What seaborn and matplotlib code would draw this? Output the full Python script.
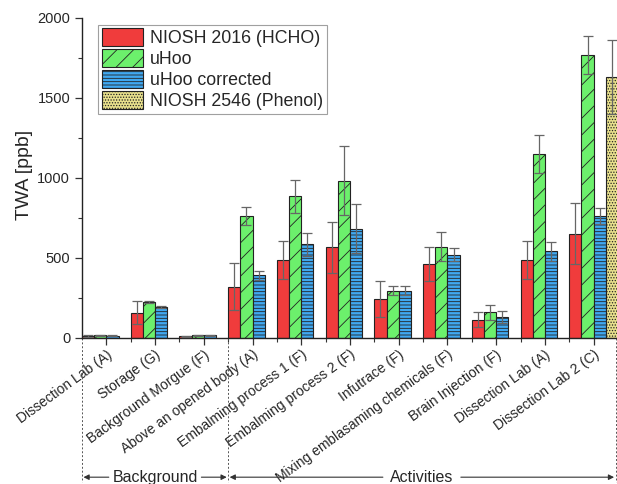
import pandas as pd
import matplotlib.pyplot as plt
import matplotlib.transforms as mtransforms
from matplotlib.ticker import MultipleLocator
import seaborn as sns

# Sampling locations
locations = [
    "Dissection Lab (A)", "Storage (G)", "Background Morgue (F)",
    "Above an opened body (A)", "Embalming process 1 (F)", "Embalming process 2 (F)",
    "Infutrace (F)", "Mixing emblasaming chemicals (F)", "Brain Injection (F)",
    "Dissection Lab (A)", "Dissection Lab 2 (C)",
]
series = ["NIOSH 2016 (HCHO)", "uHoo", "uHoo corrected", "NIOSH 2546 (Phenol)"]

# TWA values [ppb] and their errors
niosh_hcho = [12, 158, 10, 321, 487, 567, 242, 465, 115, 487, 652]
niosh_hcho_err = [4, 73, 3, 146, 117, 160, 112, 106, 45, 117, 190]
uhoo = [18, 223, 18, 762, 885, 983, 296, 569, 160, 1148, 1767]
uhoo_err = [3, 5, 3, 58, 105, 217, 27, 91, 48, 119, 120]
uhoo_corr = [15, 192, 17, 392, 585, 683, 296, 519, 133, 542, 762]
uhoo_corr_err = [5, 7, 3, 28, 70, 154, 27, 41, 38, 58, 48]
niosh_phenol = [None] * 10 + [1631]
niosh_phenol_err = [0] * 10 + [231]

colors = ["#f03c3c", "#6cf06c", "#40a8f0", "#e8e08c"]
hatches = ["", "//", "-----", "......"]

# long table for seaborn, using positions as categories (labels repeat)
rows = []
for vals, errs, name in zip(
    [niosh_hcho, uhoo, uhoo_corr, niosh_phenol],
    [niosh_hcho_err, uhoo_err, uhoo_corr_err, niosh_phenol_err],
    series,
):
    for i, (v, e) in enumerate(zip(vals, errs)):
        rows.append({"pos": i, "value": v, "err": e, "series": name})
df = pd.DataFrame(rows)
df["value"] = df["value"].astype(float)

sns.set_style("ticks")
plt.rcParams["font.family"] = ["Liberation Sans", "DejaVu Sans"]
plt.rcParams["hatch.linewidth"] = 0.6
plt.rcParams["hatch.color"] = "#222222"

fig = plt.figure(figsize=(6.17, 4.84), dpi=100)
ax = fig.add_axes([0.1329, 0.3017, 0.8687, 0.6612])

sns.barplot(
    data=df, x="pos", y="value", hue="series", hue_order=series,
    palette=colors, saturation=1, width=1.0, errorbar=None, legend=False,
    edgecolor="#222222", linewidth=0.8, ax=ax,
)

err_lookup = {(r.series, r.pos): r.err for r in df.itertuples()}
for cont, name, hatch in zip(ax.containers, series, hatches):
    xs, ys, es = [], [], []
    for bar in cont:
        if not bar.get_height() > 0:
            continue
        bar.set_hatch(hatch)
        xc = bar.get_x() + bar.get_width() / 2
        xs.append(xc)
        ys.append(bar.get_height())
        es.append(err_lookup[(name, int(round(xc)))])
    ax.errorbar(xs, ys, yerr=es, fmt="none", ecolor="#666666",
                elinewidth=0.9, capsize=3.5, capthick=0.9, zorder=5)

leg = ax.legend(ax.containers, series, loc="upper left",
                bbox_to_anchor=(0.024, 0.99), fontsize=12.8, frameon=True,
                fancybox=False, edgecolor="#888888", handlelength=2.3,
                handleheight=1.15, labelspacing=0.12, borderpad=0.2,
                handletextpad=0.4, borderaxespad=0.2)
leg.get_frame().set_linewidth(0.8)

ax.set_xlim(-0.5, 10.5)
ax.set_ylim(0, 2000)
ax.yaxis.set_major_locator(MultipleLocator(500))
ax.yaxis.set_minor_locator(MultipleLocator(250))
ax.set_xticks(range(len(locations)))
ax.set_xticks([i + 0.5 for i in range(len(locations) - 1)], minor=True)
ax.set_xticklabels(locations, rotation=36, ha="right", rotation_mode="anchor",
                   fontsize=10)
ax.tick_params(axis="y", labelsize=10.5, length=5, width=0.9, color="#333333")
ax.tick_params(axis="x", length=5, width=0.9, color="#333333", pad=2)
ax.tick_params(which="minor", length=3, width=0.8, color="#333333")
ax.set_xlabel("")
ax.set_ylabel("TWA [ppb]", fontsize=14)
ax.yaxis.set_label_coords(-0.091, 0.509)
sns.despine(ax=ax)
for s in ["left", "bottom"]:
    ax.spines[s].set_linewidth(1.0)
    ax.spines[s].set_color("#222222")

# group brackets below the axis
trans = mtransforms.blended_transform_factory(ax.transData, ax.transAxes)
y_br = -0.435
for xv in [-0.5, 2.5, 10.45]:
    ax.plot([xv, xv], [0, y_br - 0.015], transform=trans, clip_on=False,
            color="#555555", lw=0.7, ls=(0, (2, 2)))
for x0, x1, label, gap in [(-0.5, 2.5, "Background", 0.95),
                           (2.5, 10.45, "Activities", 0.8)]:
    xm = (x0 + x1) / 2
    ax.text(xm, y_br, label, transform=trans, ha="center", va="center",
            fontsize=11.5)
    ax.annotate("", xy=(x0 + 0.03, y_br), xytext=(xm - gap, y_br),
                xycoords=trans, textcoords=trans,
                arrowprops=dict(arrowstyle="-|>", color="#333333", lw=0.8,
                                mutation_scale=8, shrinkA=0, shrinkB=0))
    ax.annotate("", xy=(x1 - 0.03, y_br), xytext=(xm + gap, y_br),
                xycoords=trans, textcoords=trans,
                arrowprops=dict(arrowstyle="-|>", color="#333333", lw=0.8,
                                mutation_scale=8, shrinkA=0, shrinkB=0))

fig.savefig("out.png", dpi=100)
